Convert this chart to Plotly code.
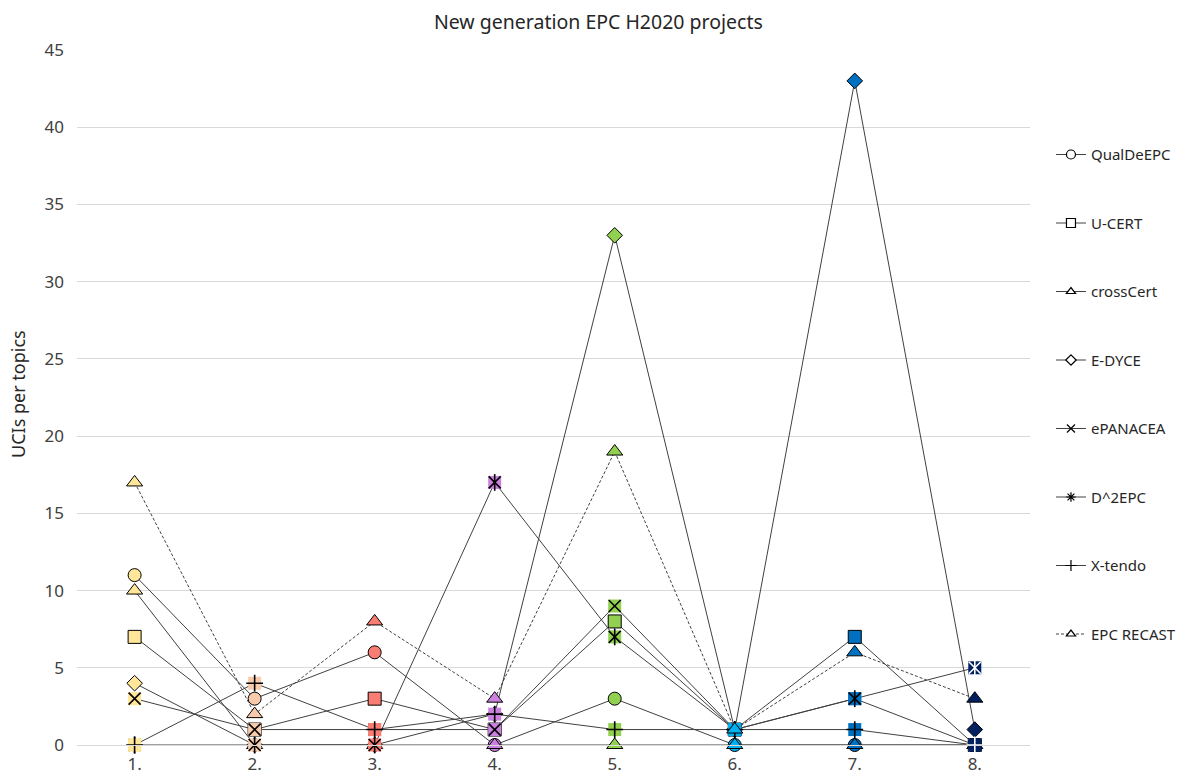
import plotly.graph_objects as go

categories = ["1.", "2.", "3.", "4.", "5.", "6.", "7.", "8."]

qualdeepc = [11, 3, 6, 0, 3, 0, 0, 0]
u_cert = [7, 1, 3, 1, 8, 1, 7, 0]
crosscert = [10, 0, 0, 0, 0, 0, 0, 0]
e_dyce = [4, 0, 0, 2, 33, 1, 43, 1]
epanacea = [3, 1, 1, 1, 9, 1, 3, 0]
d2epc = [0, 0, 0, 17, 7, 1, 3, 5]
x_tendo = [0, 4, 1, 2, 1, 1, 1, 0]
epc_recast = [17, 2, 8, 3, 19, 1, 6, 3]

cat_colors = ["#FFE699", "#F8CBAD", "#FA7D73", "#CC80E0",
              "#92D050", "#00B0F0", "#0070C0", "#002060"]
glyph_colors = ["#000000"] * 7 + ["#FFFFFF"]

series = [
    ("QualDeEPC", qualdeepc, "circle", "solid"),
    ("U-CERT", u_cert, "square", "solid"),
    ("crossCert", crosscert, "triangle-up", "solid"),
    ("E-DYCE", e_dyce, "diamond", "solid"),
    ("ePANACEA", epanacea, "x", "solid"),
    ("D^2EPC", d2epc, "asterisk", "solid"),
    ("X-tendo", x_tendo, "plus", "solid"),
    ("EPC RECAST", epc_recast, "triangle-up", "3px,2px"),
]

FONT = "Noto Sans"
LINE_COL = "#404040"
fig = go.Figure()

shape_sizes = {"circle": 13, "square": 13, "triangle-up": 14, "diamond": 12}

for name, vals, sym, dash in series:
    fig.add_trace(go.Scatter(
        x=categories, y=vals, mode="lines", showlegend=False,
        line=dict(color=LINE_COL, width=1, dash=dash), cliponaxis=False,
        hoverinfo="skip"))
    if sym in shape_sizes:
        fig.add_trace(go.Scatter(
            x=categories, y=vals, mode="markers", showlegend=False, name=name,
            cliponaxis=False,
            marker=dict(symbol=sym, size=shape_sizes[sym], color=cat_colors,
                        line=dict(color="#000000", width=1))))
    else:
        # Excel-style glyph marker: filled square background + line glyph
        fig.add_trace(go.Scatter(
            x=categories, y=vals, mode="markers", showlegend=False,
            cliponaxis=False, hoverinfo="skip",
            marker=dict(symbol="square", size=13, color=cat_colors,
                        line=dict(width=0))))
        glyphs = {"x": ["x-thin"], "plus": ["cross-thin"],
                  "asterisk": ["x-thin", "line-ns"]}[sym]
        for g in glyphs:
            fig.add_trace(go.Scatter(
                x=categories, y=vals, mode="markers", showlegend=False,
                cliponaxis=False, name=name,
                marker=dict(symbol=g, size=12, color=glyph_colors,
                            line=dict(color=glyph_colors, width=1.6))))

# legend entries (white markers with black outline)
legend_syms = {"circle": ("circle", 9), "square": ("square", 9),
               "triangle-up": ("triangle-up", 8), "diamond": ("diamond", 8),
               "x": ("x-thin", 8), "asterisk": ("asterisk", 8),
               "plus": ("cross-thin", 8)}
for name, vals, sym, dash in series:
    s, sz = legend_syms[sym]
    fig.add_trace(go.Scatter(
        x=[None], y=[None], mode="lines+markers", name=name,
        legendgroup=name, showlegend=True,
        line=dict(color=LINE_COL, width=1, dash=dash),
        marker=dict(symbol=s, size=sz, color="#FFFFFF",
                    line=dict(color="#000000", width=1.2))))

fig.update_layout(
    template=None,
    width=1176, height=765,
    paper_bgcolor="#FFFFFF", plot_bgcolor="#FFFFFF",
    margin=dict(l=69, r=154, t=42, b=28, autoexpand=False),
    font=dict(family=FONT, color="#404040", size=15),
    title=dict(text="New generation EPC H2020 projects", x=0.502, xref="container",
               xanchor="center", y=0.982, yref="container", yanchor="middle",
               font=dict(family=FONT, size=19.5, color="#262626")),
    showlegend=True,
    legend=dict(x=1.022, xanchor="left", y=0.873, yanchor="top",
                tracegroupgap=46, font=dict(family=FONT, size=15, color="#262626"),
                bgcolor="rgba(0,0,0,0)", itemwidth=30),
    xaxis=dict(type="category", range=[-0.48, 7.46], showgrid=False,
               showline=True, linecolor="#D9D9D9", linewidth=1, ticks="",
               tickfont=dict(family=FONT, size=17, color="#404040"),
               ticklabelstandoff=4, automargin=False, zeroline=False),
    yaxis=dict(range=[0, 45], dtick=5, showgrid=True, gridcolor="#D9D9D9",
               gridwidth=1, zeroline=False, showline=False, ticks="",
               tickfont=dict(family=FONT, size=17, color="#404040"),
               ticklabelstandoff=12, automargin=False),
    annotations=[dict(text="UCIs per topics", xref="paper", yref="paper",
                      x=-0.062, y=0.505, textangle=-90, showarrow=False,
                      xanchor="center", yanchor="middle",
                      font=dict(family=FONT, size=18, color="#262626"))],
)

fig.write_html("out.html")
